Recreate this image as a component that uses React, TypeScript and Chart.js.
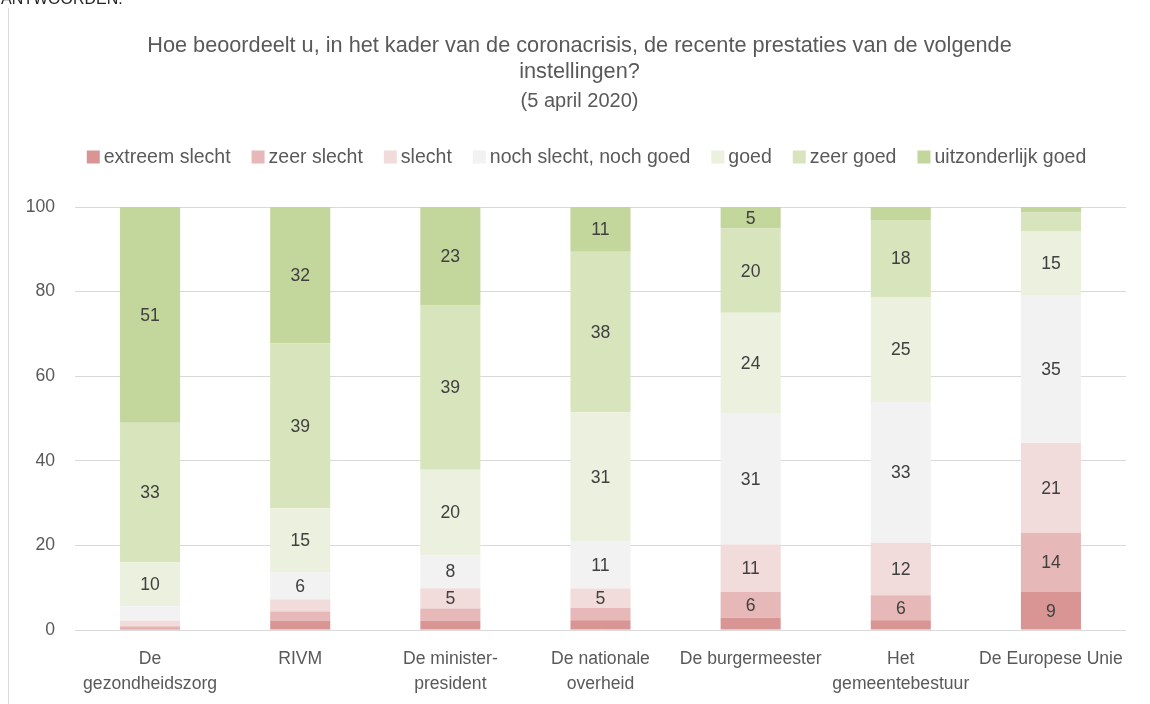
import React, { useEffect, useRef } from "react";
import { Chart, registerables } from "chart.js";

Chart.register(...registerables);

const categories: string[][] = [
  ["De", "gezondheidszorg"],
  ["RIVM"],
  ["De minister-", "president"],
  ["De nationale", "overheid"],
  ["De burgermeester"],
  ["Het", "gemeentebestuur"],
  ["De Europese Unie"],
];

const seriesNames = [
  "extreem slecht",
  "zeer slecht",
  "slecht",
  "noch slecht, noch goed",
  "goed",
  "zeer goed",
  "uitzonderlijk goed",
];

const extreemSlecht = [0.4, 2.2, 2.2, 2.3, 2.9, 2.3, 9.0];
const zeerSlecht = [0.5, 2.2, 2.9, 2.9, 6.1, 5.9, 14.0];
const slecht = [1.3, 2.8, 4.8, 4.6, 11.2, 12.4, 21.2];
const neutraal = [3.4, 6.4, 7.8, 11.1, 31.1, 33.3, 35.0];
const goed = [10.4, 15.2, 20.2, 30.6, 23.7, 24.8, 15.1];
const zeerGoed = [33.0, 39.0, 38.8, 37.9, 19.9, 18.2, 4.4];
const uitzonderlijkGoed = [51.0, 32.2, 23.3, 10.6, 5.1, 3.1, 1.3];

const seriesValues = [extreemSlecht, zeerSlecht, slecht, neutraal, goed, zeerGoed, uitzonderlijkGoed];
const seriesColors = ["#d99594", "#e6b8b7", "#f2dcdb", "#f2f2f2", "#ebf1de", "#d7e4bc", "#c3d69b"];

const yTicks = [0, 20, 40, 60, 80, 100];

const titleLines = [
  "Hoe beoordeelt u, in het kader van de coronacrisis, de recente prestaties van de volgende",
  "instellingen?",
];
const subtitleText = "(5 april 2020)";

const FONT = "'Liberation Sans', Arial, sans-serif";

const titlePlugin = {
  id: "customTitle",
  afterDraw(chart: any) {
    const ctx = chart.ctx;
    const cx = chart.width / 2;
    const top = chart.chartArea.top;
    ctx.save();
    ctx.fillStyle = "#595959";
    ctx.textAlign = "center";
    ctx.textBaseline = "middle";
    ctx.font = `21.7px ${FONT}`;
    ctx.fillText(titleLines[0], cx, top - 161);
    ctx.fillText(titleLines[1], cx, top - 135);
    ctx.font = `20px ${FONT}`;
    ctx.fillText(subtitleText, cx, top - 106);
    ctx.restore();
  },
};

const valueLabelPlugin = {
  id: "valueLabels",
  afterDatasetsDraw(chart: any) {
    const ctx = chart.ctx;
    ctx.save();
    ctx.font = `17.6px ${FONT}`;
    ctx.fillStyle = "#404040";
    ctx.textAlign = "center";
    ctx.textBaseline = "middle";
    chart.data.datasets.forEach((ds: any, di: number) => {
      const meta = chart.getDatasetMeta(di);
      meta.data.forEach((el: any, i: number) => {
        const v = ds.data[i];
        if (v >= 4.5) {
          const y = (el.y + el.base) / 2;
          ctx.fillText(String(Math.round(v)), el.x, y + 1);
        }
      });
    });
    ctx.restore();
  },
};

const customLegendPlugin = {
  id: "customLegend",
  afterDraw(chart: any) {
    const ctx = chart.ctx;
    ctx.save();
    ctx.font = `19.5px ${FONT}`;
    const box = 13;
    const gapBox = 4;
    const gapItem = 21;
    const items = chart.data.datasets.map((ds: any) => ({
      label: ds.label,
      color: ds.backgroundColor,
      w: ctx.measureText(ds.label).width,
    }));
    let total = 0;
    items.forEach((it: any, i: number) => {
      total += box + gapBox + it.w + (i < items.length - 1 ? gapItem : 0);
    });
    let x = chart.width / 2 + 7 - total / 2;
    const y = chart.chartArea.top - 50;
    ctx.textBaseline = "middle";
    ctx.textAlign = "left";
    items.forEach((it: any) => {
      ctx.fillStyle = it.color;
      ctx.fillRect(x, y - box / 2, box, box);
      ctx.fillStyle = "#595959";
      ctx.fillText(it.label, x + box + gapBox, y + 1);
      x += box + gapBox + it.w + gapItem;
    });
    ctx.restore();
  },
};

export default function App() {
  const canvasRef = useRef<HTMLCanvasElement | null>(null);

  useEffect(() => {
    if (!canvasRef.current) return;
    Chart.defaults.font.family = FONT;
    const chart = new Chart(canvasRef.current, {
      type: "bar",
      data: {
        labels: categories,
        datasets: seriesNames.map((name, i) => ({
          label: name,
          data: seriesValues[i],
          backgroundColor: seriesColors[i],
          borderWidth: 0,
          categoryPercentage: 1,
          barPercentage: 0.4,
        })),
      },
      options: {
        animation: false,
        responsive: true,
        maintainAspectRatio: false,
        layout: { padding: { left: 17, right: 24, top: 199, bottom: -9 } },
        plugins: {
          legend: { display: false },
          tooltip: { enabled: false },
          title: { display: false },
          subtitle: { display: false },
        },
        scales: {
          x: {
            stacked: true,
            grid: { display: false, drawTicks: false },
            border: { display: false },
            ticks: {
              color: "#595959",
              font: { size: 17.6, lineHeight: 1.42 },
              padding: 17,
              maxRotation: 0,
              autoSkip: false,
            },
          },
          y: {
            stacked: true,
            min: 0,
            max: 100,
            afterBuildTicks: (scale: any) => {
              scale.ticks = yTicks.map((v) => ({ value: v }));
            },
            afterFit: (scale: any) => {
              scale.width = 49;
            },
            grid: { color: "#d9d9d9", drawTicks: false, lineWidth: 1 },
            border: { display: false },
            ticks: {
              color: "#595959",
              font: { size: 17.6 },
              padding: 20,
            },
          },
        },
      },
      plugins: [valueLabelPlugin, customLegendPlugin, titlePlugin],
    });
    return () => chart.destroy();
  }, []);

  return (
    <div style={{ position: "relative" }}>
      <div
        style={{
          position: "fixed",
          top: -10,
          left: 1,
          fontFamily: FONT,
          fontSize: 16,
          color: "#262626",
          whiteSpace: "nowrap",
        }}
      >
        ANTWOORDEN.
      </div>
      <div
        style={{
          marginTop: -1,
          width: 1141,
          height: 697,
          borderTop: "1px solid #d9d9d9",
          borderLeft: "1px solid #d9d9d9",
        }}
      >
        <div style={{ width: 1141, height: 697, position: "relative" }}>
          <canvas ref={canvasRef} />
        </div>
      </div>
    </div>
  );
}
